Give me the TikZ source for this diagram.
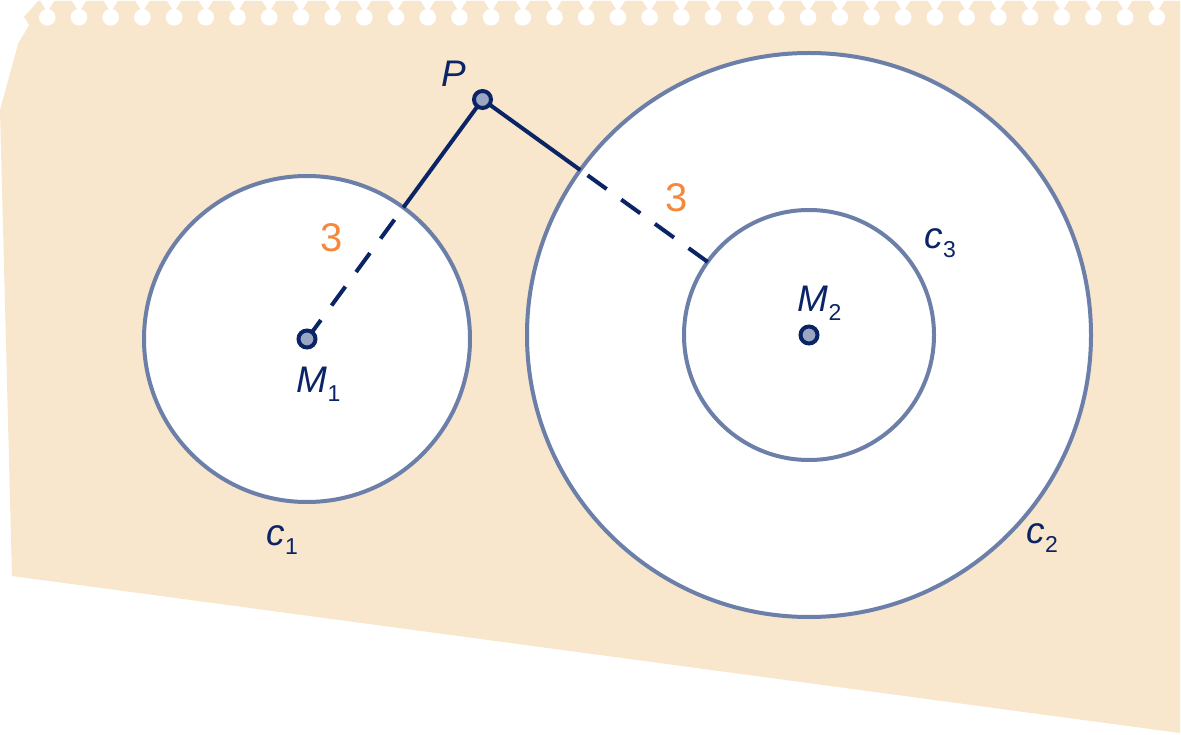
\documentclass[tikz,border=0pt]{standalone}
\usepackage{fontspec}
\setmainfont{Liberation Sans}
\usetikzlibrary{calc}
\definecolor{paper}{RGB}{248,230,205}
\definecolor{ring}{RGB}{107,127,169}
\definecolor{navy}{RGB}{10,36,102}
\definecolor{dotfill}{RGB}{155,167,194}
\definecolor{num}{RGB}{246,136,59}
\newcommand{\lbl}[2]{{\itshape #1}\kern0.5pt\raisebox{-9pt}{\fontsize{23}{23}\selectfont #2}}
\begin{document}
\begin{tikzpicture}[x=1pt,y=-1pt,
  ringline/.style={draw=ring,line width=4pt,fill=white},
  seg/.style={draw=navy,line width=4pt},
  dashseg/.style={seg,dash pattern=on 23.5pt off 18pt},
  pt/.style={circle,draw=navy,fill=dotfill,line width=4pt,minimum size=17pt,inner sep=0pt},
  lab/.style={text=navy,font=\fontsize{37}{37}\selectfont,inner sep=0pt,anchor=base west},
  numlab/.style={text=num,font=\fontsize{40}{40}\selectfont,inner sep=0pt,anchor=base west}]
\useasboundingbox (0,0) rectangle (1181,735);
% paper
\fill[paper] (38.3,1) -- (24,16.7) -- (29.3,25) -- (18.3,43.3) -- (0,110) -- (12,576) -- (1180,733) -- (1180,1) -- cycle;
\foreach \i in {0,...,35}{
  \pgfmathsetmacro\cx{47.3+31.7*\i}
  \fill[white] (\cx-8.3,-1) -- (\cx+8.3,-1) -- (\cx,12) -- cycle;
  \fill[white] (\cx,17.3) circle[radius=8.3pt];
}
% geometry
\coordinate (m1) at (307,339);
\coordinate (m2) at (809,335);
\coordinate (p) at (482.5,99.5);
\draw[ringline] (m2) circle[radius=282pt];
\draw[ringline] (m2) circle[radius=125pt];
\draw[ringline] (m1) circle[radius=163pt];
\coordinate (a1) at ($(m1)!163pt!(p)$);
\coordinate (a2) at ($(m2)!282pt!(p)$);
\coordinate (a3) at ($(m2)!125pt!(p)$);
\draw[seg] (p) -- (a1);
\draw[dashseg] (m1) -- (a1);
\draw[seg] (p) -- (a2);
\draw[dashseg] (a3) -- (a2);
\node[pt] (M1) at (m1) {};
\node[pt] (M2) at (m2) {};
\node[pt] (P) at (p) {};
% labels
\node[lab] (lP) at (441,87) {\itshape P};
\node[lab] (lM1) at (296,392) {\lbl{M}{1}};
\node[lab] (lM2) at (797,312) {\lbl{M}{2}};
\node[lab] (lc1) at (266,545) {\lbl{c}{1}};
\node[lab] (lc2) at (1026,543) {\lbl{c}{2}};
\node[lab] (lc3) at (924,249) {\lbl{c}{3}};
\node[numlab] (n1) at (320,252) {3};
\node[numlab] (n2) at (665,212) {3};
\end{tikzpicture}
\end{document}
